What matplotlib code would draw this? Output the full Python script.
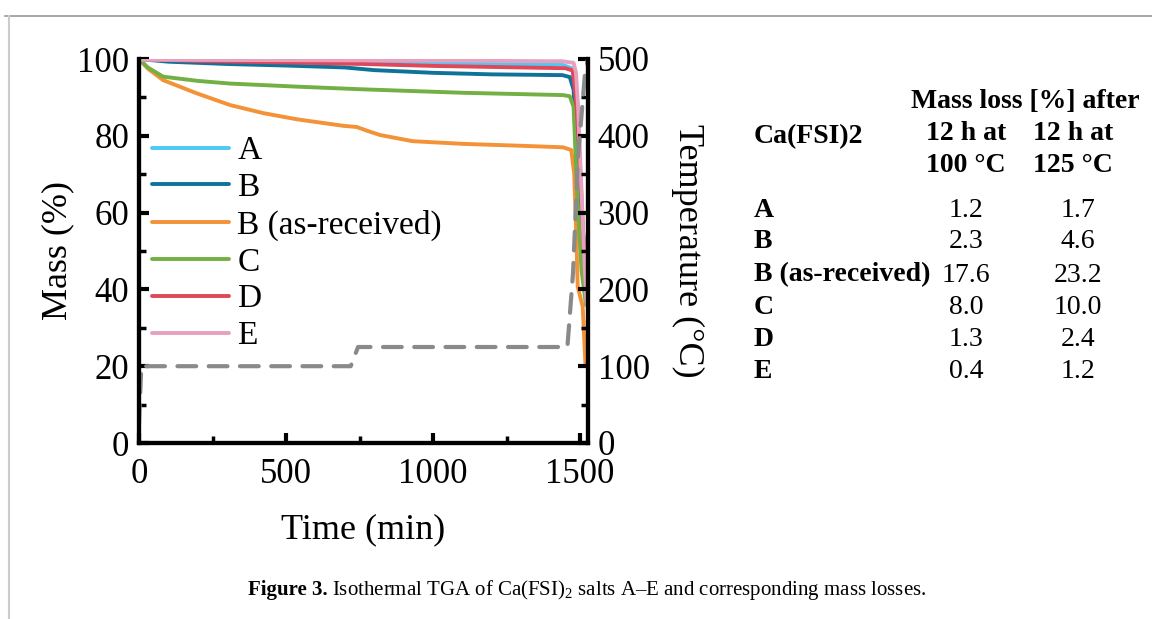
import matplotlib
matplotlib.use("Agg")
import matplotlib.pyplot as plt
from matplotlib.lines import Line2D
from matplotlib.ticker import MultipleLocator

plt.rcParams["font.family"] = "Liberation Serif"
plt.rcParams["mathtext.fontset"] = "custom"
plt.rcParams["mathtext.rm"] = "Liberation Serif"

# TGA mass curves (time in min, mass in %)
t_A = [0, 100, 400, 800, 1200, 1440, 1475, 1490, 1505, 1520]
m_A = [100, 99.6, 99.3, 99.0, 98.7, 98.5, 97.5, 85, 60, 38]

t_B = [0, 100, 300, 500, 700, 800, 1000, 1200, 1440, 1465, 1478, 1490, 1505, 1523]
m_B = [100, 99.3, 98.7, 98.3, 97.8, 97.1, 96.4, 96.0, 95.8, 95.3, 92, 75, 58, 46]

t_Bas = [0, 30, 82, 195, 310, 423, 537, 695, 740, 780, 820, 930, 1102, 1300,
         1442, 1470, 1480, 1486, 1492, 1509, 1518]
m_Bas = [100, 97.5, 94.5, 91.1, 88, 85.9, 84.3, 82.6, 82.3, 81.2, 80.2, 78.6, 77.9,
         77.4, 77.0, 76.3, 70.2, 57, 40.7, 35.5, 20.8]

t_C = [0, 30, 82, 200, 310, 537, 762, 1102, 1442, 1465, 1478, 1490, 1505, 1520]
m_C = [100, 97.8, 95.4, 94.3, 93.6, 92.8, 92.1, 91.2, 90.6, 90.3, 87.5, 65, 45, 36]

t_D = [0, 200, 500, 762, 1000, 1300, 1450, 1475, 1488, 1500, 1512, 1522]
m_D = [100, 99.5, 99.1, 98.7, 98.2, 97.8, 97.6, 97.0, 88, 72, 52, 40]

t_E = [0, 500, 1000, 1440, 1478, 1486, 1493, 1500, 1510, 1517, 1523]
m_E = [99.8, 99.7, 99.6, 99.4, 99, 96.5, 88, 75, 56, 44, 36]

# temperature program
t_T = [0, 8, 720, 745, 1457, 1476, 1493, 1517, 1527]
temp_T = [25, 100, 100, 125, 125, 221, 372, 482, 500]

labels = ["A", "B", "B (as-received)", "C", "D", "E"]
colors = ["#4dc9f6", "#0f7399", "#f39237", "#72b043", "#e0485a", "#e8a0bf"]

# table of mass losses
row_names = ["A", "B", "B (as-received)", "C", "D", "E"]
loss_100 = ["1.2", "2.3", "17.6", "8.0", "1.3", "0.4"]
loss_125 = ["1.7", "4.6", "23.2", "10.0", "2.4", "1.2"]

W, H = 1152, 619
fig = plt.figure(figsize=(W / 100, H / 100), dpi=100)
ax = fig.add_axes([139 / W, 1 - 443 / H, 449 / W, 384 / H])
ax2 = ax.twinx()

series = [(t_A, m_A), (t_B, m_B), (t_Bas, m_Bas), (t_C, m_C), (t_D, m_D), (t_E, m_E)]
for (t, m), lab, c in zip(series, labels, colors):
    ax.plot(t, m, color=c, lw=2.8, label=lab, solid_capstyle="round")

ax2.plot(t_T, temp_T, color="#8a8a8a", lw=3, linestyle=(0, (4.5, 3)),
         dash_capstyle="round")

ax.set_xlim(0, 1527)
ax.set_ylim(0, 100)
ax2.set_ylim(0, 500)
ax.xaxis.set_major_locator(MultipleLocator(500))
ax.xaxis.set_minor_locator(MultipleLocator(250))
ax.yaxis.set_major_locator(MultipleLocator(20))
ax.yaxis.set_minor_locator(MultipleLocator(10))
ax2.yaxis.set_major_locator(MultipleLocator(100))
ax2.yaxis.set_minor_locator(MultipleLocator(50))

for a in (ax, ax2):
    a.spines["top"].set_visible(False)
    for s in a.spines.values():
        s.set_linewidth(3)
    a.tick_params(which="major", direction="in", length=7, width=3, labelsize=25)
    a.tick_params(which="minor", direction="in", length=5, width=2.5)
ax.tick_params(axis="x", pad=11)
ax.tick_params(axis="y", pad=7)
ax2.tick_params(axis="y", pad=7)

ax.set_xlabel("Time (min)", fontsize=26, labelpad=16)
ax.set_ylabel("Mass (%)", fontsize=26, labelpad=2)
ax2.set_ylabel("Temperature (°C)", fontsize=26, rotation=270, labelpad=39)

ax.legend(loc="upper left", bbox_to_anchor=(0.03, 0.80), frameon=False,
          fontsize=24, handlelength=2.3, handletextpad=0.25, labelspacing=0.19,
          borderpad=0, borderaxespad=0)

# table at right
hfs = 20
fig.text(1025 / W, 1 - 101 / H, "Mass loss [%] after", fontsize=hfs, weight="bold",
         ha="center", va="center")
fig.text(754 / W, 1 - 137 / H, "Ca(FSI)2", fontsize=hfs, weight="bold",
         ha="left", va="center")
fig.text(966 / W, 1 - 134 / H, "12 h at", fontsize=hfs, weight="bold", ha="center", va="center")
fig.text(1073 / W, 1 - 134 / H, "12 h at", fontsize=hfs, weight="bold", ha="center", va="center")
fig.text(966 / W, 1 - 165 / H, "100 °C", fontsize=hfs, weight="bold", ha="center", va="center")
fig.text(1073 / W, 1 - 165 / H, "125 °C", fontsize=hfs, weight="bold", ha="center", va="center")
row_y = [211, 242, 275, 307, 340, 371]
for name, v1, v2, y in zip(row_names, loss_100, loss_125, row_y):
    fig.text(754 / W, 1 - y / H, name, fontsize=hfs, weight="bold", ha="left", va="center")
    fig.text(966 / W, 1 - y / H, v1, fontsize=hfs, ha="center", va="center")
    fig.text(1078 / W, 1 - y / H, v2, fontsize=hfs, ha="center", va="center")

# caption
fig.canvas.draw()
r = fig.canvas.get_renderer()
cap1 = fig.text(248 / W, 1 - 590 / H, "Figure 3.", fontsize=15, weight="bold",
                ha="left", va="center")
bb = cap1.get_window_extent(renderer=r)
fig.text((bb.x1 + 4) / W, 1 - 590 / H,
         r"Isothermal TGA of Ca(FSI)$_2$ salts A–E and corresponding mass losses.",
         fontsize=15, ha="left", va="center")

# page frame lines
fig.add_artist(Line2D([5 / W, 1], [1 - 16 / H] * 2, color="#9a9a9a", lw=1.2))
fig.add_artist(Line2D([9 / W] * 2, [0, 1 - 16 / H], color="#cccccc", lw=1.5))

fig.savefig("out.png", dpi=100)
